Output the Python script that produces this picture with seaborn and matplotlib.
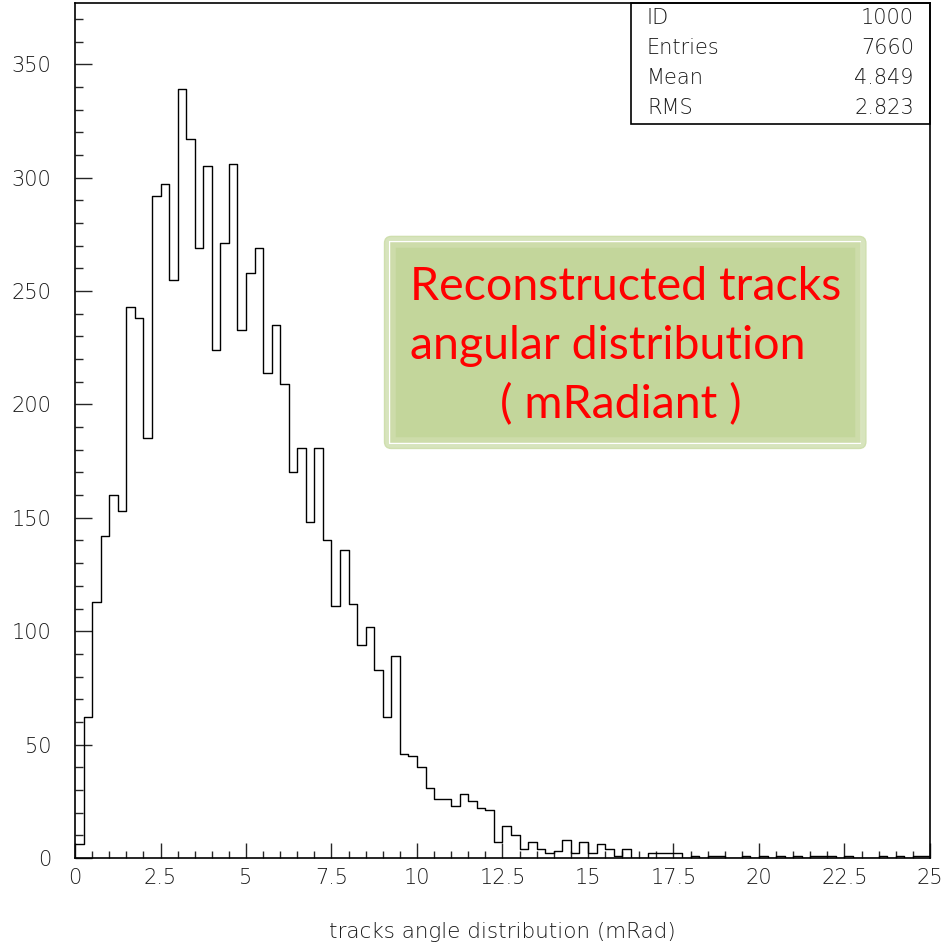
import numpy as np
import pandas as pd
import matplotlib
matplotlib.use("Agg")
import matplotlib.pyplot as plt
import seaborn as sns
from matplotlib.patches import Rectangle, FancyBboxPatch
from matplotlib.ticker import MultipleLocator

# ---- data (counts per 0.25 mRad bin, 0..25) ----
counts = [6, 62, 113, 142, 160, 153, 243, 238, 185, 292,
          297, 255, 339, 317, 269, 305, 224, 271, 306, 233,
          258, 269, 214, 235, 209, 170, 181, 148, 181, 140,
          111, 136, 112, 94, 102, 83, 62, 89, 46, 45,
          40, 31, 26, 26, 23, 28, 25, 22, 21, 7,
          14, 10, 4, 7, 4, 2, 3, 8, 2, 7,
          2, 6, 4, 1, 4, 0, 0, 2, 2, 2,
          2, 0, 1, 0, 1, 1, 0, 0, 1, 0,
          1, 0, 1, 0, 1, 0, 1, 1, 1, 0,
          1, 0, 0, 0, 1, 0, 1, 0, 1, 1]
bin_lo, bin_hi, bin_width = 0.0, 25.0, 0.25
x_ticks = [0, 2.5, 5, 7.5, 10, 12.5, 15, 17.5, 20, 22.5, 25]
x_tick_labels = ["0", "2.5", "5", "7.5", "10", "12.5", "15", "17.5", "20", "22.5", "25"]
y_ticks = [0, 50, 100, 150, 200, 250, 300, 350]
stats_names = ["ID", "Entries", "Mean", "RMS"]
stats_values = ["1000", "7660", "4.849", "2.823"]
note_lines = ["Reconstructed tracks", "angular distribution", "( mRadiant )"]
x_label = "tracks angle distribution (mRad)"

n_bins = len(counts)
edges = bin_lo + bin_width * np.arange(n_bins + 1)
centers = (edges[:-1] + edges[1:]) / 2
df = pd.DataFrame({"angle": centers, "count": counts})

sns.set_style("ticks")
plt.rcParams["font.family"] = ["DejaVu Sans"]
plt.rcParams["font.weight"] = 200
plt.rcParams["axes.labelweight"] = 200
lab_color = "#1a1a1a"
fs = 15

fig = plt.figure(figsize=(9.44, 9.44), dpi=100)
ax = fig.add_axes([75 / 944, 86 / 944, 855 / 944, 855 / 944])

sns.histplot(data=df, x="angle", weights="count", binwidth=bin_width,
             binrange=(bin_lo, bin_hi), element="step",
             fill=False, color="black", linewidth=1.0, ax=ax)

ax.set_xlim(bin_lo, bin_hi)
ax.set_ylim(0, 377)
ax.set_xticks(x_ticks, x_tick_labels)
ax.set_yticks(y_ticks, [str(v) for v in y_ticks])
ax.xaxis.set_minor_locator(MultipleLocator(0.5))
ax.yaxis.set_minor_locator(MultipleLocator(10))
ax.tick_params(axis="x", which="major", direction="in", length=11, width=1,
               pad=7, labelsize=fs, labelcolor=lab_color)
ax.tick_params(axis="x", which="minor", direction="in", length=5, width=1)
ax.tick_params(axis="y", which="major", direction="in", length=12, width=1,
               pad=17, labelsize=fs, labelcolor=lab_color)
ax.tick_params(axis="y", which="minor", direction="in", length=6, width=1)
for sp in ax.spines.values():
    sp.set_color("black")
    sp.set_linewidth(1.2)
ax.set_ylabel("")
ax.set_xlabel(x_label, fontsize=15.5, fontweight=200, color=lab_color, labelpad=25)

# stats box
ax.add_patch(Rectangle((0.650, 0.8585), 0.350, 0.1415, transform=ax.transAxes,
                       fill=False, ec="black", lw=1.2, clip_on=False, zorder=5))
rows_y = [0.982, 0.947, 0.912, 0.877]
for name, val, yy in zip(stats_names, stats_values, rows_y):
    ax.text(0.669, yy, name, transform=ax.transAxes, ha="left", va="center",
            fontsize=fs, color=lab_color)
    ax.text(0.981, yy, val, transform=ax.transAxes, ha="right", va="center",
            fontsize=fs, color=lab_color)

# green annotation box
ax.add_patch(FancyBboxPatch((0.362, 0.479), 0.563, 0.248,
                            boxstyle="round,pad=0,rounding_size=0.008",
                            transform=ax.transAxes, fc="#d7e4bd", ec="#cfdfae",
                            lw=1.0, zorder=3))
ax.add_patch(Rectangle((0.3685, 0.4855), 0.550, 0.235, transform=ax.transAxes,
                       fill=False, ec="white", lw=1.5, zorder=4))
ax.add_patch(Rectangle((0.3715, 0.4885), 0.544, 0.229, transform=ax.transAxes,
                       fc="#c3d69b", ec="#cddcaa", lw=4, zorder=4))
note_pos = [(0.392, 0.6526), (0.392, 0.5836), (0.497, 0.5146)]
for line, (xx, yy) in zip(note_lines, note_pos):
    ax.text(xx, yy, line, transform=ax.transAxes, ha="left", va="baseline",
            fontsize=33.5, fontweight="normal", color="#ff0000",
            family=["Lato", "DejaVu Sans"], zorder=6)

fig.savefig("out.png", dpi=100)
